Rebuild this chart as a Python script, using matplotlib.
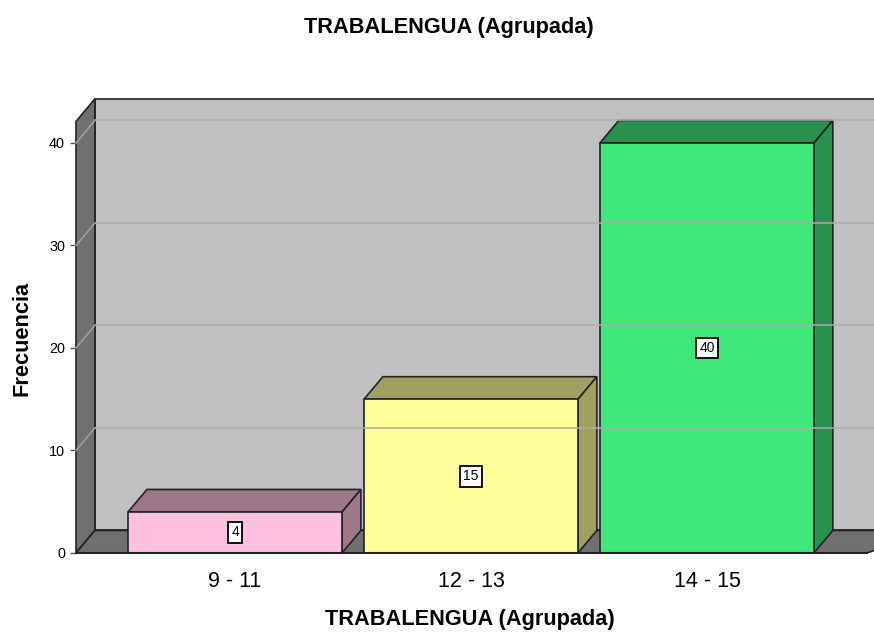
import matplotlib.pyplot as plt
from matplotlib.patches import Polygon

# Data
categories = ["9 - 11", "12 - 13", "14 - 15"]
frequencies = [4, 15, 40]
front_colors = ["#ffbfdf", "#ffff99", "#40e87c"]
side_colors = ["#9e7888", "#a0a060", "#27914d"]
y_ticks = [0, 10, 20, 30, 40]

plt.rcParams['font.family'] = ['Liberation Sans', 'DejaVu Sans']

fig = plt.figure(figsize=(8.74, 6.32), dpi=100)
ax = fig.add_axes([76 / 874, 79 / 632, 798 / 874, 458 / 632])

# 3D box geometry (data units)
x_left, x_right = -0.674, 2.678
wall_top = 42.1
dx, dy = 0.08, 2.2
bar_w = 0.907
edge = "#222222"

ax.set_xlim(x_left, 2.708)
ax.set_ylim(0, 44.68)

# back wall
ax.add_patch(Polygon([(x_left + dx, dy), (x_right + dx + 0.2, dy),
                      (x_right + dx + 0.2, wall_top + dy), (x_left + dx, wall_top + dy)],
                     closed=True, fc="#c0c0c0", ec=edge, lw=1.2, clip_on=True))
# left side wall
ax.add_patch(Polygon([(x_left, 0), (x_left + dx, dy), (x_left + dx, wall_top + dy), (x_left, wall_top)],
                     closed=True, fc="#707070", ec=edge, lw=1.2, clip_on=False))
# gridlines on back wall and side wall
for v in y_ticks[1:]:
    ax.plot([x_left + dx, 3.0], [v + dy, v + dy], color="#adadad", lw=1.1)
    ax.plot([x_left, x_left + dx], [v, v + dy], color="#a0a0a0", lw=1.1, clip_on=False)
# floor
ax.add_patch(Polygon([(x_left, 0), (x_left + dx, dy), (x_right + dx + 0.2, dy), (x_right, 0)],
                     closed=True, fc="#707070", ec=edge, lw=1.2, clip_on=True))
ax.plot([x_left, x_right], [0, 0], color=edge, lw=1.5, clip_on=False)

# 3D bars
for i, (val, fc, sc) in enumerate(zip(frequencies, front_colors, side_colors)):
    x0, x1 = i - bar_w / 2, i + bar_w / 2
    # top face
    ax.add_patch(Polygon([(x0, val), (x1, val), (x1 + dx, val + dy), (x0 + dx, val + dy)],
                         closed=True, fc=sc, ec=edge, lw=1.2))
    # right face
    ax.add_patch(Polygon([(x1, 0), (x1 + dx, dy), (x1 + dx, val + dy), (x1, val)],
                         closed=True, fc=sc, ec=edge, lw=1.2))
    # front face
    ax.add_patch(Polygon([(x0, 0), (x1, 0), (x1, val), (x0, val)],
                         closed=True, fc=fc, ec=edge, lw=1.2))
    ax.text(i, val / 2, str(val), ha="center", va="center", fontsize=10,
            bbox=dict(boxstyle="square,pad=0.25", fc="white", ec="black", lw=1.3))

for s in ax.spines.values():
    s.set_visible(False)

ax.set_yticks(y_ticks)
ax.set_yticklabels([str(t) for t in y_ticks], fontsize=10.4)
ax.set_xticks(range(len(categories)))
ax.set_xticklabels(categories, fontsize=15.5)
ax.tick_params(axis="x", length=0, pad=13)
ax.tick_params(axis="y", length=4, width=1, color="#555555", pad=4)

ax.set_xlabel("TRABALENGUA (Agrupada)", fontsize=15.7, fontweight="bold", va="center")
ax.xaxis.set_label_coords(0.494, -0.146)
ax.set_ylabel("Frecuencia", fontsize=15.7, fontweight="bold", va="center")
ax.yaxis.set_label_coords(-0.0677, 0.469)
fig.text(449 / 874, 1 - 27 / 632, "TRABALENGUA (Agrupada)", ha="center", va="center",
         fontsize=15.7, fontweight="bold")

fig.savefig("out.png", dpi=100)
